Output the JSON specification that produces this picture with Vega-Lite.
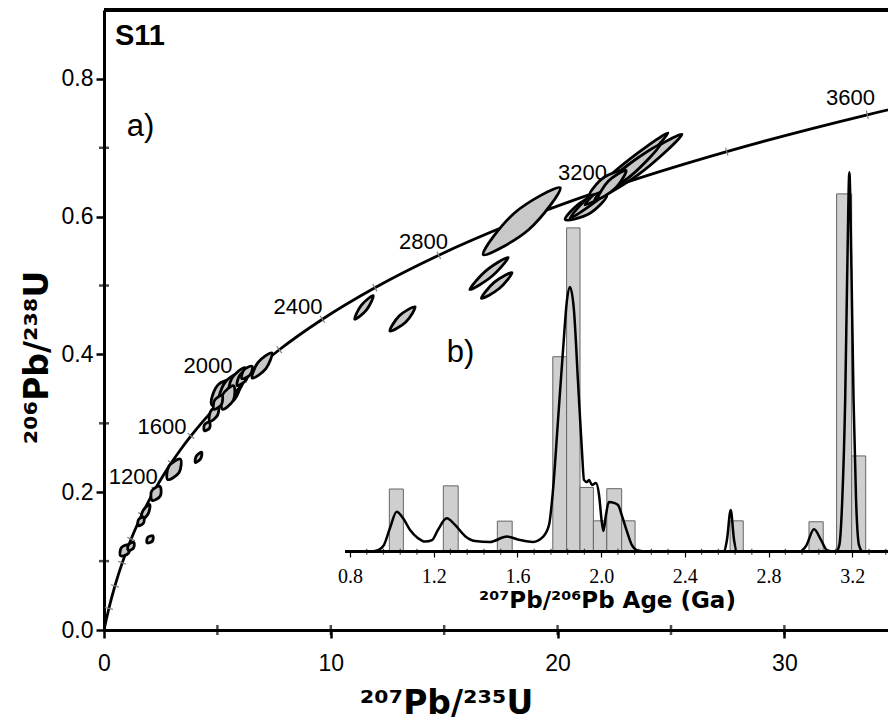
{
"$schema": "https://vega.github.io/schema/vega-lite/v6.json",
"width": 784, "height": 620,
"autosize": {"type": "none"},
"padding": {"left": 104, "top": 10, "right": 0, "bottom": 91},
"background": "white",
"config": {"view": {"stroke": null}, "font": "Liberation Sans"},
"datasets": {
"concordia": [
{"age":0,"x":0,"y":0},{"age":50,"x":0.0505,"y":0.0078},{"age":100,"x":0.1035,"y":0.0156},{"age":200,"x":0.2177,"y":0.0315},{"age":300,"x":0.3438,"y":0.0476},{"age":400,"x":0.4828,"y":0.0640},{"age":500,"x":0.6362,"y":0.0807},{"age":600,"x":0.8056,"y":0.0975},{"age":700,"x":0.9925,"y":0.1147},{"age":800,"x":1.1987,"y":0.1321},{"age":900,"x":1.4264,"y":0.1498},{"age":1000,"x":1.6774,"y":0.1678},{"age":1100,"x":1.9545,"y":0.1861},{"age":1200,"x":2.2603,"y":0.2046},{"age":1300,"x":2.5977,"y":0.2234},{"age":1400,"x":2.9701,"y":0.2426},{"age":1500,"x":3.3810,"y":0.2620},{"age":1600,"x":3.8344,"y":0.2817},{"age":1700,"x":4.3348,"y":0.3017},{"age":1800,"x":4.8869,"y":0.3221},{"age":1900,"x":5.4962,"y":0.3428},{"age":2000,"x":6.1685,"y":0.3638},{"age":2200,"x":7.7292,"y":0.4068},{"age":2400,"x":9.6295,"y":0.4511},{"age":2600,"x":11.9438,"y":0.4968},{"age":2800,"x":14.7617,"y":0.5440},{"age":3000,"x":18.1931,"y":0.5927},{"age":3200,"x":22.3716,"y":0.6428},{"age":3400,"x":27.4593,"y":0.6945},{"age":3600,"x":33.6552,"y":0.7479},{"age":3700,"x":37.2422,"y":0.7752}
],
"ellipses": [
{"e":1,"k":1,"x":1.1243,"y":0.1234},{"e":1,"k":2,"x":0.7739,"y":0.1198},{"e":1,"k":3,"x":0.7275,"y":0.1078},{"e":1,"k":4,"x":1.0779,"y":0.1114},
{"e":2,"k":1,"x":1.3170,"y":0.1273},{"e":2,"k":2,"x":1.0821,"y":0.1239},{"e":2,"k":3,"x":1.0640,"y":0.1155},{"e":2,"k":4,"x":1.2989,"y":0.1189},
{"e":3,"k":1,"x":2.1557,"y":0.1366},{"e":3,"k":2,"x":1.9269,"y":0.1344},{"e":3,"k":3,"x":1.9007,"y":0.1266},{"e":3,"k":4,"x":2.1295,"y":0.1288},
{"e":4,"k":1,"x":2.0161,"y":0.1823},{"e":4,"k":2,"x":1.7130,"y":0.1728},{"e":4,"k":3,"x":1.6435,"y":0.1593},{"e":4,"k":4,"x":1.9466,"y":0.1688},
{"e":5,"k":1,"x":1.7416,"y":0.1640},{"e":5,"k":2,"x":1.5168,"y":0.1599},{"e":5,"k":3,"x":1.5212,"y":0.1514},{"e":5,"k":4,"x":1.7460,"y":0.1555},
{"e":6,"k":1,"x":2.4584,"y":0.2086},{"e":6,"k":2,"x":2.0982,"y":0.2017},{"e":6,"k":3,"x":2.1272,"y":0.1881},{"e":6,"k":4,"x":2.4874,"y":0.1949},
{"e":7,"k":1,"x":3.3668,"y":0.2480},{"e":7,"k":2,"x":2.8621,"y":0.2378},{"e":7,"k":3,"x":2.8060,"y":0.2184},{"e":7,"k":4,"x":3.3107,"y":0.2286},
{"e":8,"k":1,"x":4.3069,"y":0.2580},{"e":8,"k":2,"x":4.0732,"y":0.2525},{"e":8,"k":3,"x":4.0265,"y":0.2432},{"e":8,"k":4,"x":4.2602,"y":0.2487},
{"e":9,"k":1,"x":4.6516,"y":0.3018},{"e":9,"k":2,"x":4.4268,"y":0.2977},{"e":9,"k":3,"x":4.4312,"y":0.2892},{"e":9,"k":4,"x":4.6560,"y":0.2933},
{"e":10,"k":1,"x":5.0364,"y":0.3259},{"e":10,"k":2,"x":4.6944,"y":0.3171},{"e":10,"k":3,"x":4.6638,"y":0.3029},{"e":10,"k":4,"x":5.0058,"y":0.3117},
{"e":11,"k":1,"x":6.0017,"y":0.3633},{"e":11,"k":2,"x":5.0547,"y":0.3568},{"e":11,"k":3,"x":4.7567,"y":0.3265},{"e":11,"k":4,"x":5.7037,"y":0.3330},
{"e":12,"k":1,"x":6.2105,"y":0.3758},{"e":12,"k":2,"x":5.3735,"y":0.3611},{"e":12,"k":3,"x":5.0769,"y":0.3314},{"e":12,"k":4,"x":5.9139,"y":0.3461},
{"e":13,"k":1,"x":6.2169,"y":0.3809},{"e":13,"k":2,"x":5.6351,"y":0.3652},{"e":13,"k":3,"x":5.5115,"y":0.3407},{"e":13,"k":4,"x":6.0933,"y":0.3565},
{"e":14,"k":1,"x":5.7096,"y":0.3547},{"e":14,"k":2,"x":5.2276,"y":0.3413},{"e":14,"k":3,"x":5.2252,"y":0.3205},{"e":14,"k":4,"x":5.7072,"y":0.3339},
{"e":15,"k":1,"x":6.3816,"y":0.3785},{"e":15,"k":2,"x":5.9842,"y":0.3699},{"e":15,"k":3,"x":5.8758,"y":0.3547},{"e":15,"k":4,"x":6.2732,"y":0.3633},
{"e":16,"k":1,"x":6.5318,"y":0.3828},{"e":16,"k":2,"x":6.1700,"y":0.3776},{"e":16,"k":3,"x":6.0784,"y":0.3650},{"e":16,"k":4,"x":6.4402,"y":0.3702},
{"e":17,"k":1,"x":7.4009,"y":0.4023},{"e":17,"k":2,"x":6.7928,"y":0.3885},{"e":17,"k":3,"x":6.5321,"y":0.3657},{"e":17,"k":4,"x":7.1402,"y":0.3795},
{"e":18,"k":1,"x":5.2029,"y":0.3405},{"e":18,"k":2,"x":4.8738,"y":0.3333},{"e":18,"k":3,"x":4.8501,"y":0.3204},{"e":18,"k":4,"x":5.1792,"y":0.3275},
{"e":19,"k":1,"x":11.8710,"y":0.4854},{"e":19,"k":2,"x":11.3422,"y":0.4713},{"e":19,"k":3,"x":11.0566,"y":0.4511},{"e":19,"k":4,"x":11.5854,"y":0.4651},
{"e":20,"k":1,"x":13.7164,"y":0.4691},{"e":20,"k":2,"x":13.0236,"y":0.4562},{"e":20,"k":3,"x":12.6064,"y":0.4339},{"e":20,"k":4,"x":13.2992,"y":0.4468},
{"e":21,"k":1,"x":20.1142,"y":0.6420},{"e":21,"k":2,"x":18.0989,"y":0.6054},{"e":21,"k":3,"x":16.7200,"y":0.5449},{"e":21,"k":4,"x":18.7353,"y":0.5814},
{"e":22,"k":1,"x":17.8197,"y":0.5408},{"e":22,"k":2,"x":16.8619,"y":0.5220},{"e":22,"k":3,"x":16.1309,"y":0.4942},{"e":22,"k":4,"x":17.0887,"y":0.5131},
{"e":23,"k":1,"x":17.9903,"y":0.5188},{"e":23,"k":2,"x":17.2014,"y":0.5046},{"e":23,"k":3,"x":16.6393,"y":0.4815},{"e":23,"k":4,"x":17.4282,"y":0.4957},
{"e":24,"k":1,"x":22.1686,"y":0.6307},{"e":24,"k":2,"x":21.0979,"y":0.6221},{"e":24,"k":3,"x":20.3358,"y":0.5959},{"e":24,"k":4,"x":21.4065,"y":0.6045},
{"e":25,"k":1,"x":24.8702,"y":0.7216},{"e":25,"k":2,"x":22.5336,"y":0.6663},{"e":25,"k":3,"x":20.5442,"y":0.5978},{"e":25,"k":4,"x":22.8808,"y":0.6531},
{"e":26,"k":1,"x":25.4868,"y":0.7196},{"e":26,"k":2,"x":23.1652,"y":0.6766},{"e":26,"k":3,"x":21.2064,"y":0.6172},{"e":26,"k":4,"x":23.5280,"y":0.6602},
{"e":27,"k":1,"x":24.5343,"y":0.7049},{"e":27,"k":2,"x":22.9403,"y":0.6704},{"e":27,"k":3,"x":21.6297,"y":0.6247},{"e":27,"k":4,"x":23.2237,"y":0.6592},
{"e":28,"k":1,"x":22.9366,"y":0.6670},{"e":28,"k":2,"x":22.0264,"y":0.6566},{"e":28,"k":3,"x":21.4196,"y":0.6320},{"e":28,"k":4,"x":22.3298,"y":0.6424},
{"e":29,"k":1,"x":23.0222,"y":0.6671},{"e":29,"k":2,"x":22.2427,"y":0.6517},{"e":29,"k":3,"x":21.7750,"y":0.6261},{"e":29,"k":4,"x":22.5545,"y":0.6415}
],
"agelabels": [
{"label":"1200","x":1.292,"y":0.2214},{"label":"1600","x":2.557,"y":0.2940},{"label":"2000","x":4.586,"y":0.3832},{"label":"2400","x":8.554,"y":0.4693},{"label":"2800","x":14.087,"y":0.5637},{"label":"3200","x":21.098,"y":0.6641},{"label":"3600","x":32.914,"y":0.7718}
],
"panels": [{"label":"a)","x":1.001,"y":0.7302},{"label":"b)","x":15.11,"y":0.4017}],
"sample": [{"label":"S11","x":0.485,"y":0.8622}],
"minorx": [{"x":5,"y":0},{"x":10,"y":0},{"x":15,"y":0},{"x":20,"y":0},{"x":25,"y":0},{"x":30,"y":0}],
"minory": [{"x":0,"y":0.1},{"x":0,"y":0.3},{"x":0,"y":0.5},{"x":0,"y":0.7}],
"insetminor": [{"ga":0.88,"v":0},{"ga":0.96,"v":0},{"ga":1.04,"v":0},{"ga":1.12,"v":0},{"ga":1.28,"v":0},{"ga":1.36,"v":0},{"ga":1.44,"v":0},{"ga":1.52,"v":0},{"ga":1.68,"v":0},{"ga":1.76,"v":0},{"ga":1.84,"v":0},{"ga":1.92,"v":0},{"ga":2.08,"v":0},{"ga":2.16,"v":0},{"ga":2.24,"v":0},{"ga":2.32,"v":0},{"ga":2.48,"v":0},{"ga":2.56,"v":0},{"ga":2.64,"v":0},{"ga":2.72,"v":0},{"ga":2.88,"v":0},{"ga":2.96,"v":0},{"ga":3.04,"v":0},{"ga":3.12,"v":0},{"ga":3.28,"v":0},{"ga":3.36,"v":0}],
"bars": [
{"x0":0.988,"x1":1.055,"n":1.99},{"x0":1.246,"x1":1.317,"n":2.09},{"x0":1.504,"x1":1.575,"n":0.97},{"x0":1.769,"x1":1.835,"n":6.19},{"x0":1.835,"x1":1.899,"n":10.28},{"x0":1.899,"x1":1.963,"n":2.04},{"x0":1.963,"x1":2.027,"n":0.98},{"x0":2.027,"x1":2.098,"n":2.0},{"x0":2.098,"x1":2.162,"n":0.98},{"x0":2.616,"x1":2.679,"n":0.98},{"x0":2.993,"x1":3.061,"n":0.95},{"x0":3.125,"x1":3.197,"n":11.36},{"x0":3.197,"x1":3.264,"n":3.04}
],
"kde": [
{"ga":0.781,"v":0},{"ga":0.896,"v":0},{"ga":0.934,"v":0.05},{"ga":0.962,"v":0.21},{"ga":0.991,"v":0.75},{"ga":1.023,"v":1.27},{"ga":1.053,"v":1.07},{"ga":1.087,"v":0.69},{"ga":1.125,"v":0.43},{"ga":1.158,"v":0.32},{"ga":1.192,"v":0.37},{"ga":1.220,"v":0.69},{"ga":1.262,"v":1.06},{"ga":1.302,"v":0.85},{"ga":1.349,"v":0.50},{"ga":1.397,"v":0.34},{"ga":1.469,"v":0.31},{"ga":1.549,"v":0.48},{"ga":1.612,"v":0.37},{"ga":1.674,"v":0.31},{"ga":1.722,"v":0.47},{"ga":1.751,"v":0.85},{"ga":1.770,"v":1.96},{"ga":1.794,"v":4.18},{"ga":1.818,"v":6.41},{"ga":1.837,"v":8.0},{"ga":1.851,"v":8.40},{"ga":1.870,"v":7.67},{"ga":1.889,"v":5.45},{"ga":1.908,"v":3.23},{"ga":1.918,"v":2.28},{"ga":1.932,"v":2.21},{"ga":1.942,"v":2.28},{"ga":1.956,"v":2.12},{"ga":1.975,"v":2.18},{"ga":1.990,"v":1.80},{"ga":2.002,"v":1.01},{"ga":2.011,"v":0.66},{"ga":2.023,"v":1.17},{"ga":2.037,"v":1.58},{"ga":2.061,"v":1.55},{"ga":2.081,"v":1.48},{"ga":2.100,"v":1.13},{"ga":2.124,"v":0.63},{"ga":2.147,"v":0.21},{"ga":2.176,"v":0.04},{"ga":2.233,"v":0},{"ga":2.587,"v":0},{"ga":2.601,"v":0.37},{"ga":2.619,"v":1.32},{"ga":2.635,"v":0.37},{"ga":2.649,"v":0},{"ga":2.950,"v":0},{"ga":2.979,"v":0.18},{"ga":3.017,"v":0.71},{"ga":3.051,"v":0.37},{"ga":3.079,"v":0.05},{"ga":3.122,"v":0},{"ga":3.138,"v":0.21},{"ga":3.152,"v":1.64},{"ga":3.166,"v":4.82},{"ga":3.176,"v":8.94},{"ga":3.186,"v":12.05},{"ga":3.196,"v":8.94},{"ga":3.206,"v":4.82},{"ga":3.218,"v":1.64},{"ga":3.232,"v":0.21},{"ga":3.251,"v":0},{"ga":3.371,"v":0}
]
},
"layer": [
{
"layer": [
{
"data": {"name": "concordia"},
"mark": {"type": "line", "color": "black", "strokeWidth": 2.8, "interpolate": "monotone", "clip": true},
"encoding": {
"x": {"field": "x", "type": "quantitative", "scale": {"domain": [0, 34.568], "nice": false, "zero": false},
"axis": {"values": [0, 10, 20, 30], "format": "d", "grid": false, "labelFlush": false, "labelFont": "Liberation Sans", "labelFontSize": 23, "labelColor": "black", "labelPadding": 14, "tickSize": 8, "tickWidth": 2.5, "tickColor": "black", "domainColor": "black", "domainWidth": 3,
"title": "²⁰⁷Pb/²³⁵U", "titleFont": "DejaVu Sans", "titleFontSize": 33, "titleFontWeight": "bold", "titleColor": "black", "titleX": 342, "titleY": 83, "titleAlign": "center", "titleBaseline": "alphabetic"}},
"y": {"field": "y", "type": "quantitative", "scale": {"domain": [0, 0.9], "nice": false, "zero": false},
"axis": {"values": [0, 0.2, 0.4, 0.6, 0.8], "format": ".1f", "grid": false, "labelFont": "Liberation Sans", "labelFontSize": 23, "labelColor": "black", "labelPadding": 3, "tickSize": 8, "tickWidth": 2.5, "tickColor": "black", "domainColor": "black", "domainWidth": 3,
"title": "²⁰⁶Pb/²³⁸U", "titleFont": "DejaVu Sans", "titleFontSize": 33, "titleFontWeight": "bold", "titleColor": "black", "titleX": -57, "titleY": 347, "titleAlign": "center", "titleBaseline": "alphabetic", "titleAngle": 270}},
"order": {"field": "age", "type": "quantitative"}
}
},
{
"data": {"name": "concordia"},
"mark": {"type": "rule", "color": "black", "strokeWidth": 3},
"encoding": {"y": {"datum": 0.9, "type": "quantitative", "scale": {"domain": [0, 0.9], "nice": false, "zero": false}}}
},
{
"data": {"name": "minorx"},
"mark": {"type": "tick", "orient": "vertical", "color": "black", "size": 10, "thickness": 2.5},
"encoding": {
"x": {"field": "x", "type": "quantitative", "scale": {"domain": [0, 34.568], "nice": false, "zero": false}},
"y": {"field": "y", "type": "quantitative", "scale": {"domain": [0, 0.9], "nice": false, "zero": false}}
}
},
{
"data": {"name": "minory"},
"mark": {"type": "tick", "orient": "horizontal", "color": "black", "size": 10, "thickness": 2.5},
"encoding": {
"x": {"field": "x", "type": "quantitative", "scale": {"domain": [0, 34.568], "nice": false, "zero": false}},
"y": {"field": "y", "type": "quantitative", "scale": {"domain": [0, 0.9], "nice": false, "zero": false}}
}
},
{
"data": {"name": "concordia"},
"transform": [{"filter": "datum.age > 0 && datum.age % 200 == 0 && datum.age <= 3600"}],
"mark": {"type": "point", "shape": "stroke", "size": 70, "color": "#808080", "strokeWidth": 1.2, "opacity": 1},
"encoding": {
"x": {"field": "x", "type": "quantitative", "scale": {"domain": [0, 34.568], "nice": false, "zero": false}},
"y": {"field": "y", "type": "quantitative", "scale": {"domain": [0, 0.9], "nice": false, "zero": false}},
"angle": {"field": "age", "type": "quantitative", "scale": {"domain": [200, 1000, 2000, 3000, 3600], "range": [13.9, 25.6, 47.7, 68.3, 76.4]}, "legend": null}
}
},
{
"data": {"name": "ellipses"},
"mark": {"type": "line", "interpolate": "cardinal-closed", "fill": "#c8c8c8", "stroke": "black", "strokeWidth": 2.8},
"encoding": {
"x": {"field": "x", "type": "quantitative", "scale": {"domain": [0, 34.568], "nice": false, "zero": false}},
"y": {"field": "y", "type": "quantitative", "scale": {"domain": [0, 0.9], "nice": false, "zero": false}},
"detail": {"field": "e", "type": "nominal"},
"order": {"field": "k", "type": "quantitative"}
}
},
{
"data": {"name": "agelabels"},
"mark": {"type": "text", "font": "Liberation Sans", "fontSize": 22, "color": "black", "align": "center", "baseline": "middle"},
"encoding": {
"x": {"field": "x", "type": "quantitative", "scale": {"domain": [0, 34.568], "nice": false, "zero": false}},
"y": {"field": "y", "type": "quantitative", "scale": {"domain": [0, 0.9], "nice": false, "zero": false}},
"text": {"field": "label"}
}
},
{
"data": {"name": "panels"},
"mark": {"type": "text", "font": "Liberation Sans", "fontSize": 31, "color": "black", "align": "left", "baseline": "middle"},
"encoding": {
"x": {"field": "x", "type": "quantitative", "scale": {"domain": [0, 34.568], "nice": false, "zero": false}},
"y": {"field": "y", "type": "quantitative", "scale": {"domain": [0, 0.9], "nice": false, "zero": false}},
"text": {"field": "label"}
}
},
{
"data": {"name": "sample"},
"mark": {"type": "text", "font": "Liberation Sans", "fontSize": 29, "fontWeight": "bold", "color": "black", "align": "left", "baseline": "middle"},
"encoding": {
"x": {"field": "x", "type": "quantitative", "scale": {"domain": [0, 34.568], "nice": false, "zero": false}},
"y": {"field": "y", "type": "quantitative", "scale": {"domain": [0, 0.9], "nice": false, "zero": false}},
"text": {"field": "label"}
}
}
]
},
{
"layer": [
{
"data": {"name": "bars"},
"mark": {"type": "rect", "fill": "#cfcfcf", "stroke": "#666666", "strokeWidth": 1},
"encoding": {
"x": {"field": "x0", "type": "quantitative", "scale": {"domain": [-0.3754, 3.3706], "nice": false, "zero": false},
"axis": {"orient": "bottom", "offset": -78, "domain": false, "grid": false,
"values": [0.8, 1.2, 1.6, 2.0, 2.4, 2.8, 3.2], "format": ".1f",
"labelFont": "Liberation Serif", "labelFontSize": 20, "labelColor": "black", "labelPadding": 9, "labelFlush": false, "labelOverlap": false,
"tickSize": 5, "tickColor": "black", "tickWidth": 1.2,
"title": "²⁰⁷Pb/²⁰⁶Pb Age (Ga)", "titleFont": "DejaVu Sans", "titleFontSize": 23, "titleFontWeight": "bold", "titleColor": "black", "titleX": 503, "titleY": 48, "titleAlign": "center", "titleBaseline": "middle"}},
"x2": {"field": "x1"},
"y": {"field": "n", "type": "quantitative", "scale": {"domain": [-2.486, 17.197], "nice": false, "zero": false}, "axis": null},
"y2": {"datum": 0}
}
},
{
"data": {"name": "kde"},
"mark": {"type": "rule", "color": "black", "strokeWidth": 2},
"encoding": {
"x": {"datum": 0.78, "type": "quantitative", "scale": {"domain": [-0.3754, 3.3706], "nice": false, "zero": false}},
"x2": {"datum": 3.3706},
"y": {"datum": 0, "type": "quantitative", "scale": {"domain": [-2.486, 17.197], "nice": false, "zero": false}, "axis": null}
}
},
{
"data": {"name": "insetminor"},
"mark": {"type": "tick", "orient": "vertical", "color": "black", "size": 6, "thickness": 1.2},
"encoding": {
"x": {"field": "ga", "type": "quantitative", "scale": {"domain": [-0.3754, 3.3706], "nice": false, "zero": false}},
"y": {"field": "v", "type": "quantitative", "scale": {"domain": [-2.486, 17.197], "nice": false, "zero": false}, "axis": null}
}
},
{
"data": {"name": "kde"},
"mark": {"type": "line", "color": "black", "strokeWidth": 2.5, "interpolate": "monotone"},
"encoding": {
"x": {"field": "ga", "type": "quantitative", "scale": {"domain": [-0.3754, 3.3706], "nice": false, "zero": false}},
"y": {"field": "v", "type": "quantitative", "scale": {"domain": [-2.486, 17.197], "nice": false, "zero": false}, "axis": null}
}
}
]
}
],
"resolve": {"scale": {"x": "independent", "y": "independent"}}
}
